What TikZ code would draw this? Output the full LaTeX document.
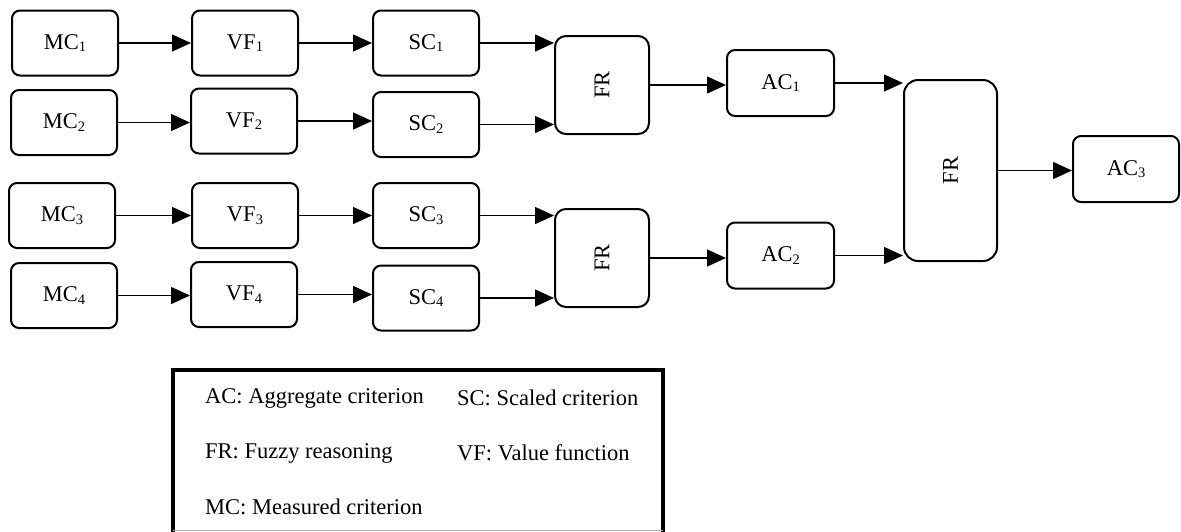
\documentclass[tikz,border=0pt]{standalone}
\usepackage{fontspec}
\setmainfont{Liberation Serif}
\usetikzlibrary{arrows.meta}
\newcommand\sbs[1]{\raisebox{-0.25ex}{\fontsize{14.5}{14.5}\selectfont #1}}
\tikzset{
  blk/.style={draw=black, line width=2pt, rounded corners=8pt, minimum width=106pt, minimum height=65pt, inner sep=0pt, font=\fontsize{22.5}{26}\selectfont},
  frblk/.style={draw=black, line width=2pt, rounded corners=11pt, minimum width=94pt, minimum height=98pt, inner sep=0pt},
  frtxt/.style={rotate=90, font=\fontsize{22.5}{26}\selectfont},
  conn/.style={line width=1.4pt, -{Triangle[length=19pt,width=17pt]}},
  legtxt/.style={anchor=west, inner sep=0pt, font=\fontsize{22.5}{26}\selectfont}
}
\begin{document}
\begin{tikzpicture}[x=1pt,y=-1pt]
\useasboundingbox (0,0) rectangle (1181,531);
% column MC
\node[blk] (mc1) at (65,43) {MC\sbs{1}};
\node[blk] (mc2) at (64,122.5) {MC\sbs{2}};
\node[blk] (mc3) at (62,215.5) {MC\sbs{3}};
\node[blk] (mc4) at (64,295.5) {MC\sbs{4}};
% column VF
\node[blk] (vf1) at (245,43) {VF\sbs{1}};
\node[blk] (vf2) at (244,121) {VF\sbs{2}};
\node[blk] (vf3) at (245,215.5) {VF\sbs{3}};
\node[blk] (vf4) at (244,294.5) {VF\sbs{4}};
% column SC
\node[blk] (sc1) at (426,43) {SC\sbs{1}};
\node[blk] (sc2) at (426,124.5) {SC\sbs{2}};
\node[blk] (sc3) at (426,215.5) {SC\sbs{3}};
\node[blk] (sc4) at (426,298) {SC\sbs{4}};
% FR
\node[frblk] (fr1) at (602,85) {};
\node[frtxt] at (fr1.center) {FR};
\node[frblk] (fr2) at (602,258) {};
\node[frtxt] at (fr2.center) {FR};
% AC
\node[blk, minimum width=107pt, minimum height=66pt] (ac1) at (780.5,83) {AC\sbs{1}};
\node[blk, minimum width=107pt, minimum height=66pt] (ac2) at (780.5,255.5) {AC\sbs{2}};
\node[frblk, minimum width=93pt, minimum height=181pt, rounded corners=14pt] (fr3) at (950.5,170.5) {};
\node[frtxt] at (fr3.center) {FR};
\node[blk, minimum width=106pt, minimum height=66pt] (ac3) at (1126,169) {AC\sbs{3}};
% connectors
\foreach \a/\b in {mc1/vf1,mc2/vf2,mc3/vf3,mc4/vf4,vf1/sc1,vf2/sc2,vf3/sc3,vf4/sc4,sc1/fr1,sc2/fr1,sc3/fr2,sc4/fr2,fr1/ac1,fr2/ac2,ac1/fr3,ac2/fr3,fr3/ac3}
  \draw[conn] (\a.east) -- (\b.west |- \a.east);
% legend
\draw[line width=4.3pt] (173,537) -- (173,370) -- (663,370) -- (663,537);
\draw[line width=0.8pt, black!30] (173,530) -- (663,530);
\node[legtxt] (l1) at (205,398) {AC: Aggregate criterion};
\node[legtxt] (l2) at (457,398) {SC: Scaled criterion};
\node[legtxt] (l3) at (205,453) {FR: Fuzzy reasoning};
\node[legtxt] (l4) at (457,453) {VF: Value function};
\node[legtxt] (l5) at (205,507) {MC: Measured criterion};
\end{tikzpicture}
\end{document}
